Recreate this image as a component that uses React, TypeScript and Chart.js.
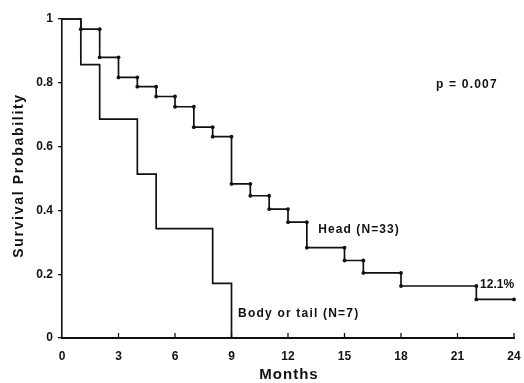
import React, { useEffect, useRef } from 'react';
import { Chart, registerables } from 'chart.js';

Chart.register(...registerables);

// ---- data ----
const monthTicks = [0, 3, 6, 9, 12, 15, 18, 21, 24];
const probTicks = [0, 0.2, 0.4, 0.6, 0.8, 1];
const probTickLabels = ['0', '0.2', '0.4', '0.6', '0.8', '1'];

const headTimes = [1, 2, 3, 4, 5, 6, 7, 8, 9, 10, 11, 12, 13, 15, 16, 18, 22];
const headSurvival = [0.968, 0.88, 0.817, 0.788, 0.757, 0.725, 0.661, 0.631, 0.483, 0.446, 0.404, 0.363, 0.283, 0.243, 0.204, 0.163, 0.121];
const headFollowUpEnd = 24;

const bodyTimes = [1, 2, 4, 5, 8, 9];
const bodySurvival = [0.857, 0.686, 0.514, 0.343, 0.171, 0];
const bodyFollowUpEnd = 9;

const xTitle = 'Months';
const yTitle = 'Survival Probability';

const annotations = [
  { text: 'p = 0.007', x: 19.86, y: 0.793, spacing: 1.2 },
  { text: 'Head (N=33)', x: 13.6, y: 0.339, spacing: 1.1 },
  { text: 'Body or tail (N=7)', x: 9.35, y: 0.077, spacing: 1.2 },
  { text: '12.1%', x: 22.2, y: 0.166, spacing: 0 },
];

function stepPoints(times: number[], surv: number[], end: number) {
  const pts: { x: number; y: number }[] = [{ x: 0, y: 1 }];
  let prev = 1;
  times.forEach((t, i) => {
    pts.push({ x: t, y: prev });
    pts.push({ x: t, y: surv[i] });
    prev = surv[i];
  });
  if (end > times[times.length - 1]) pts.push({ x: end, y: prev });
  return pts;
}

const INK = '#111111';
const FONT = '"Liberation Sans", Arial, Helvetica, sans-serif';

const decorPlugin = {
  id: 'decor',
  afterDraw(chart: any) {
    const { ctx, chartArea, scales } = chart;
    const xs = scales.x;
    const ys = scales.y;
    ctx.save();
    // inward x ticks
    ctx.strokeStyle = INK;
    ctx.lineWidth = 1.3;
    monthTicks.forEach((v) => {
      if (v === 0) return;
      const px = xs.getPixelForValue(v);
      ctx.beginPath();
      ctx.moveTo(px, chartArea.bottom);
      ctx.lineTo(px, chartArea.bottom - 5);
      ctx.stroke();
    });
    // annotations
    ctx.fillStyle = INK;
    ctx.textBaseline = 'middle';
    ctx.textAlign = 'left';
    ctx.font = `bold 12px ${FONT}`;
    annotations.forEach((a) => {
      (ctx as any).letterSpacing = `${a.spacing}px`;
      ctx.fillText(a.text, xs.getPixelForValue(a.x), ys.getPixelForValue(a.y));
    });
    // axis titles
    ctx.textAlign = 'center';
    (ctx as any).letterSpacing = '1px';
    ctx.font = `bold 15px ${FONT}`;
    ctx.fillText(xTitle, (chartArea.left + chartArea.right) / 2 + 1, 375);
    ctx.translate(19, (chartArea.top + chartArea.bottom) / 2 - 3);
    ctx.rotate(-Math.PI / 2);
    (ctx as any).letterSpacing = '1.7px';
    ctx.font = `bold 14px ${FONT}`;
    ctx.fillText(yTitle, 0, 0);
    ctx.restore();
  },
};

export default function App() {
  const ref = useRef<HTMLCanvasElement>(null);
  useEffect(() => {
    if (!ref.current) return;
    const headPts = stepPoints(headTimes, headSurvival, headFollowUpEnd);
    const bodyPts = stepPoints(bodyTimes, bodySurvival, bodyFollowUpEnd);
    const chart = new Chart(ref.current, {
      type: 'line',
      data: {
        datasets: [
          {
            label: 'Head (N=33)',
            data: headPts,
            borderColor: INK,
            borderWidth: 1.7,
            pointBackgroundColor: INK,
            pointBorderWidth: 0,
            pointRadius: (c: any) => (c.dataIndex < 2 ? 0 : 1.9),
            tension: 0,
            clip: 6,
          } as any,
          {
            label: 'Body or tail (N=7)',
            data: bodyPts,
            borderColor: INK,
            borderWidth: 1.7,
            pointRadius: 0,
            tension: 0,
            clip: 6,
          } as any,
        ],
      },
      options: {
        animation: false,
        responsive: true,
        maintainAspectRatio: false,
        layout: { padding: { left: 0, top: 19, right: 10, bottom: 0 } },
        plugins: { legend: { display: false }, tooltip: { enabled: false } },
        scales: {
          x: {
            type: 'linear',
            min: 0,
            max: 24,
            afterBuildTicks: (s: any) => {
              s.ticks = monthTicks.map((v) => ({ value: v }));
            },
            afterFit: (s: any) => {
              s.height = 45;
              s.paddingLeft = 0;
              s.paddingRight = 0;
            },
            ticks: {
              color: INK,
              font: { family: FONT, size: 12, weight: 'bold' },
              padding: 11,
              maxRotation: 0,
              callback: (v: any) => String(v),
            },
            grid: { display: false, drawTicks: false },
            border: { display: true, color: INK, width: 2 },
          },
          y: {
            type: 'linear',
            min: 0,
            max: 1,
            afterBuildTicks: (s: any) => {
              s.ticks = probTicks.map((v) => ({ value: v }));
            },
            afterFit: (s: any) => {
              s.width = 62;
              s.paddingTop = 0;
              s.paddingBottom = 0;
            },
            ticks: {
              color: INK,
              font: { family: FONT, size: 12, weight: 'bold' },
              padding: 5,
              callback: (v: any) => {
                const i = probTicks.findIndex((p) => Math.abs(p - Number(v)) < 1e-6);
                return i >= 0 ? probTickLabels[i] : '';
              },
            },
            grid: { display: true, drawOnChartArea: false, drawTicks: true, tickLength: 4, color: INK, lineWidth: 1.3 },
            border: { display: true, color: INK, width: 1.6 },
          },
        },
      },
      plugins: [decorPlugin],
    } as any);
    return () => chart.destroy();
  }, []);
  return (
    <div style={{ position: 'absolute', left: 0, top: 0, width: 524, height: 383, background: '#fff' }}>
      <canvas ref={ref} />
    </div>
  );
}
